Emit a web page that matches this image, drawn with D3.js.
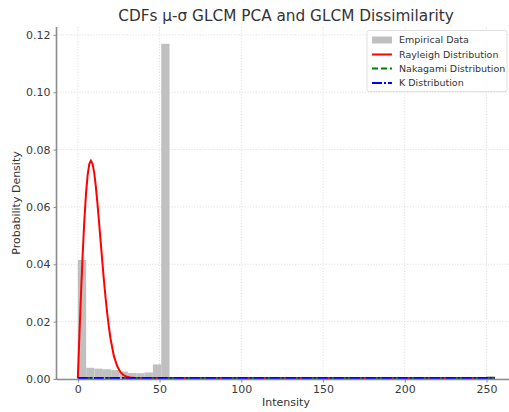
<!DOCTYPE html>
<html><head><meta charset="utf-8">
<script src="https://cdn.jsdelivr.net/npm/d3@7"></script>
<style>body{margin:0;background:#fff}svg{display:block}text{font-family:"DejaVu Sans",sans-serif}</style>
</head><body><svg id="c" width="509" height="412"></svg>
<script>
const binWidth = 5.1;
const histValues = [0.0415,0.0039,0.0036,0.0034,0.0031,0.0026,0.0021,0.0020,0.0023,0.0051,
 0.1169,0.0007,0.0005,0.0004,0.0003,0.0003,0.0003,0.0003,0.0003,0.0003,
 0.0003,0.0003,0.0002,0.0003,0.0002,0.0002,0.0003,0.0002,0.0002,0.0002,
 0.0002,0.0002,0.0002,0.0002,0.0002,0.0002,0.0002,0.0002,0.0002,0.0002,
 0.0002,0.0002,0.0002,0.0002,0.0002,0.0002,0.0002,0.0002,0.0003,0.0010];
const rayleighX = [0,1,2,3,4,5,6,7,8,9,10,11,12,13,14,15,16,17,18,19,20,22,24,26,28,30,32,35,40,60,100,150,200,255];
const rayleighY = [0,0.0155,0.0303,0.0437,0.0552,0.0643,0.0708,0.0746,0.0758,0.0747,0.0716,0.0668,0.0609,0.0542,0.0473,0.0404,0.0338,0.0278,0.0224,0.0177,0.0137,0.0078,0.0042,0.0021,0.00096,0.0004,0.00017,0.00004,0,0,0,0,0,0];
const nakagamiX = [0,50,100,150,200,255];
const nakagamiY = [0,0,0,0,0,0];
const kX = [0,50,100,150,200,255];
const kY = [0,0,0,0,0,0];
const xTicks = [0,50,100,150,200,250];
const yTicks = [0,0.02,0.04,0.06,0.08,0.10,0.12];
const legendLabels = ["Empirical Data","Rayleigh Distribution","Nakagami Distribution","K Distribution"];

const svg = d3.select("#c");
const L = 57, R = 515.5, T = 27, B = 379;
const x = d3.scaleLinear().domain([-12.75, 267.75]).range([L, R]);
const y = d3.scaleLinear().domain([0, 0.12275]).range([B, T]);

// grid
const g = svg.append("g");
g.selectAll(".gx").data(xTicks).join("line")
  .attr("x1", d=>x(d)).attr("x2", d=>x(d)).attr("y1", T).attr("y2", B)
  .attr("stroke", "#d8d8d8").attr("stroke-width", 0.8).attr("stroke-dasharray", "1.2,1.6");
g.selectAll(".gy").data(yTicks).join("line")
  .attr("x1", L).attr("x2", 509).attr("y1", d=>y(d)).attr("y2", d=>y(d))
  .attr("stroke", "#d8d8d8").attr("stroke-width", 0.8).attr("stroke-dasharray", "1.2,1.6");

// histogram
svg.append("g").selectAll("rect").data(histValues).join("rect")
  .attr("x", (d,i)=>x(i*binWidth)).attr("width", (d,i)=>x((i+1)*binWidth)-x(i*binWidth))
  .attr("y", d=>y(d)).attr("height", d=>B - y(d))
  .attr("fill", "#c0c0c0");

// lines
const lineGen = d3.line().x(d=>x(d[0])).y(d=>y(d[1]));
const ray = rayleighX.map((v,i)=>[v, rayleighY[i]]);
const nak = nakagamiX.map((v,i)=>[v, nakagamiY[i]]);
const kd = kX.map((v,i)=>[v, kY[i]]);
svg.append("path").datum(ray).attr("d", lineGen).attr("fill","none").attr("stroke","#ff0000").attr("stroke-width",2).attr("transform","translate(0,-1)");
svg.append("path").datum(nak).attr("d", lineGen).attr("fill","none").attr("stroke","#008000").attr("stroke-width",2).attr("stroke-dasharray","6,3").attr("transform","translate(0,-1)");
svg.append("path").datum(kd).attr("d", lineGen).attr("fill","none").attr("stroke","#0000ff").attr("stroke-width",2.2).attr("stroke-dasharray","10,2,2,2").attr("transform","translate(0,-1)");

// axes
const xAxis = d3.axisBottom(x).tickValues(xTicks).tickSize(3.5).tickPadding(3).tickFormat(d3.format("d"));
const yAxis = d3.axisLeft(y).tickValues(yTicks).tickSize(3.5).tickPadding(3).tickFormat(d3.format(".2f"));
const gx = svg.append("g").attr("transform", `translate(0,${B})`).call(xAxis);
const gy = svg.append("g").attr("transform", `translate(${L},0)`).call(yAxis);
[gx, gy].forEach(a=>{
  a.select(".domain").attr("stroke","#8c8c8c").attr("stroke-width",1.6);
  a.selectAll(".tick line").attr("stroke","#8c8c8c").attr("stroke-width",1);
  a.selectAll(".tick text").attr("fill","#3a3a3a").style("font-size","11px").style("font-family","DejaVu Sans");
});
gx.select(".domain").attr("d", `M${L},0.5H509`);
gy.select(".domain").attr("d", `M-0.5,${T}V${B}`);

// title & labels
svg.append("text").attr("x", 286).attr("y", 21).attr("text-anchor","middle")
  .attr("fill","#333").style("font-size","15.3px").text("CDFs μ-σ GLCM PCA and GLCM Dissimilarity");
svg.append("text").attr("x", 286).attr("y", 406).attr("text-anchor","middle")
  .attr("fill","#333").style("font-size","11px").text("Intensity");
svg.append("text").attr("transform", `translate(20,${(T+B)/2}) rotate(-90)`).attr("text-anchor","middle")
  .attr("fill","#333").style("font-size","11px").text("Probability Density");

// legend
const lg = svg.append("g");
lg.append("rect").attr("x", 367).attr("y", 30.5).attr("width", 140).attr("height", 61)
  .attr("rx", 2).attr("fill","#fff").attr("fill-opacity",0.85).attr("stroke","#d8d8d8").attr("stroke-width",0.8);
const rowY = [40, 54.5, 68.5, 83];
lg.append("rect").attr("x", 372).attr("y", rowY[0]-3.5).attr("width", 20).attr("height", 7).attr("fill","#c0c0c0");
lg.append("line").attr("x1",372).attr("x2",392).attr("y1",rowY[1]).attr("y2",rowY[1]).attr("stroke","#ff0000").attr("stroke-width",2);
lg.append("line").attr("x1",372).attr("x2",392).attr("y1",rowY[2]).attr("y2",rowY[2]).attr("stroke","#008000").attr("stroke-width",2).attr("stroke-dasharray","6,3");
lg.append("line").attr("x1",372).attr("x2",392).attr("y1",rowY[3]).attr("y2",rowY[3]).attr("stroke","#0000ff").attr("stroke-width",2).attr("stroke-dasharray","10,2,2,2");
lg.selectAll("text.lt").data(legendLabels).join("text")
  .attr("x", 399).attr("y", (d,i)=>rowY[i]).attr("dy","0.35em")
  .attr("fill","#333").style("font-size","9.5px").text(d=>d);
</script></body></html>
